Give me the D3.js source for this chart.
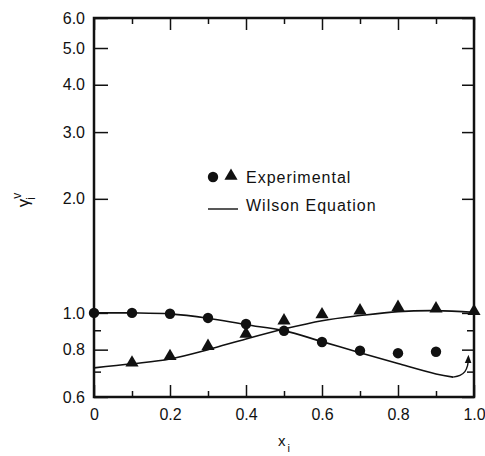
<!DOCTYPE html>
<html><head><meta charset="utf-8">
<script src="https://cdn.jsdelivr.net/npm/d3@7"></script>
<style>
body{margin:0;background:#fff}
text{font-family:"Liberation Sans",Arial,sans-serif;fill:#111}
</style></head>
<body><svg id="c" width="485" height="456"></svg>
<script>
// ---- data ----
const xExpCircle = [0, 0.1, 0.2, 0.3, 0.4, 0.5, 0.6, 0.7, 0.8, 0.9];
const gammaExpCircle = [1.0, 1.0, 0.995, 0.97, 0.935, 0.897, 0.838, 0.795, 0.783, 0.79];
const xExpTri = [0.1, 0.2, 0.3, 0.4, 0.5, 0.6, 0.7, 0.8, 0.9, 1.0];
const gammaExpTri = [0.734, 0.764, 0.812, 0.875, 0.948, 0.984, 1.008, 1.029, 1.02, 1.004];
const xWilson1 = [0, 0.1, 0.2, 0.3, 0.4, 0.5, 0.6, 0.7, 0.8, 0.9, 0.945];
const gammaWilson1 = [1.0, 1.0, 0.994, 0.968, 0.931, 0.898, 0.84, 0.785, 0.735, 0.69, 0.677];
const xHook = [0.945, 0.963, 0.976, 0.983, 0.985];
const gammaHook = [0.677, 0.684, 0.700, 0.726, 0.756];
const xWilson2 = [0, 0.1, 0.2, 0.3, 0.4, 0.5, 0.6, 0.7, 0.8, 0.9, 1.0];
const gammaWilson2 = [0.716, 0.734, 0.756, 0.80, 0.854, 0.907, 0.954, 0.984, 1.008, 1.014, 1.004];
const xTickValues = [0, 0.2, 0.4, 0.6, 0.8, 1.0];
const xTickLabels = ["0", "0.2", "0.4", "0.6", "0.8", "1.0"];
const xMinorTicks = [0.1, 0.3, 0.5, 0.7, 0.9];
const yTickValues = [0.6, 0.8, 1.0, 2.0, 3.0, 4.0, 5.0, 6.0];
const yTickLabels = ["0.6", "0.8", "1.0", "2.0", "3.0", "4.0", "5.0", "6.0"];
const yMinorTicks = [0.7, 0.9];
const legendLabels = ["Experimental", "Wilson Equation"];

(function () {
// ---- layout ----
const L = 94, R = 474, T = 18, B = 397;
const svg = d3.select("#c");
const x = d3.scaleLinear().domain([0, 1]).range([L, R]);
const y = d3.scaleLog().domain([0.6, 6]).range([B, T]);

svg.append("defs").append("marker")
  .attr("id", "arr").attr("viewBox", "0 0 10 10").attr("refX", 5).attr("refY", 5)
  .attr("markerWidth", 6).attr("markerHeight", 6).attr("orient", "auto")
  .append("path").attr("d", "M0,1 L10,5 L0,9 Z").attr("fill", "#111");

// frame
svg.append("rect").attr("x", L).attr("y", T).attr("width", R - L).attr("height", B - T)
  .attr("fill", "none").attr("stroke", "#111").attr("stroke-width", 2.5);

// axes with inward ticks
svg.append("g").attr("transform", `translate(0,${B})`)
  .call(d3.axisBottom(x).tickValues(xTickValues).tickSize(-12).tickPadding(12)
    .tickFormat((d, i) => xTickLabels[i]));
svg.append("g").attr("transform", `translate(0,${B})`)
  .call(d3.axisBottom(x).tickValues(xMinorTicks).tickSize(-6).tickFormat(""));
svg.append("g").attr("transform", `translate(0,${T})`)
  .call(d3.axisTop(x).tickValues(xTickValues).tickSize(-12).tickFormat(""));
svg.append("g").attr("transform", `translate(0,${T})`)
  .call(d3.axisTop(x).tickValues(xMinorTicks).tickSize(-6).tickFormat(""));
svg.append("g").attr("transform", `translate(${L},0)`)
  .call(d3.axisLeft(y).tickValues(yTickValues).tickSize(-14).tickPadding(9)
    .tickFormat((d, i) => yTickLabels[i]));
svg.append("g").attr("transform", `translate(${L},0)`)
  .call(d3.axisLeft(y).tickValues(yMinorTicks).tickSize(-7).tickFormat(""));
svg.append("g").attr("transform", `translate(${R},0)`)
  .call(d3.axisRight(y).tickValues(yTickValues).tickSize(-12).tickFormat(""));
svg.append("g").attr("transform", `translate(${R},0)`)
  .call(d3.axisRight(y).tickValues(yMinorTicks).tickSize(-7).tickFormat(""));
svg.selectAll(".domain").remove();
svg.selectAll(".tick line").attr("stroke", "#111").attr("stroke-width", 1.5);
svg.selectAll(".tick text").attr("font-size", 16).attr("font-family", "Liberation Sans, Arial, sans-serif").attr("fill", "#111");

// curves
const line = d3.line().x(d => x(d[0])).y(d => y(d[1])).curve(d3.curveCatmullRom);
svg.append("path").datum(d3.zip(xWilson1, gammaWilson1)).attr("d", line)
  .attr("fill", "none").attr("stroke", "#111").attr("stroke-width", 1.6);
svg.append("path").datum(d3.zip(xHook, gammaHook)).attr("d", line)
  .attr("fill", "none").attr("stroke", "#111").attr("stroke-width", 1.4).attr("marker-end", "url(#arr)");
svg.append("path").datum(d3.zip(xWilson2, gammaWilson2)).attr("d", line)
  .attr("fill", "none").attr("stroke", "#111").attr("stroke-width", 1.6);

// points
const tri = d3.symbol().type(d3.symbolTriangle).size(75);
svg.append("g").selectAll("circle").data(d3.zip(xExpCircle, gammaExpCircle)).join("circle")
  .attr("cx", d => x(d[0])).attr("cy", d => y(d[1])).attr("r", 5.2).attr("fill", "#111");
svg.append("g").selectAll("path").data(d3.zip(xExpTri, gammaExpTri)).join("path")
  .attr("d", tri).attr("transform", d => `translate(${x(d[0])},${y(d[1]) - 1})`).attr("fill", "#111");

// legend
const lg = svg.append("g");
lg.append("circle").attr("cx", 213).attr("cy", 177).attr("r", 5.2).attr("fill", "#111");
lg.append("path").attr("d", tri).attr("transform", "translate(231,176)").attr("fill", "#111");
lg.append("text").attr("x", 246).attr("y", 183).attr("font-size", 16).attr("letter-spacing", 1).text(legendLabels[0]);
lg.append("line").attr("x1", 208).attr("x2", 238).attr("y1", 209).attr("y2", 209).attr("stroke", "#111").attr("stroke-width", 1.4);
lg.append("text").attr("x", 246).attr("y", 211).attr("font-size", 16).attr("letter-spacing", 1).text(legendLabels[1]);

// axis titles
const yt = svg.append("text").attr("transform", "translate(29,200) rotate(-90)")
  .attr("text-anchor", "middle").attr("font-size", 17);
yt.append("tspan").text("γ");
yt.append("tspan").attr("font-size", 12).attr("dy", -8).text("v");
yt.append("tspan").attr("font-size", 12).attr("dx", -7).attr("dy", 14).text("i");

const xt = svg.append("text").attr("x", 284).attr("y", 446).attr("text-anchor", "middle").attr("font-size", 15);
xt.append("tspan").text("x");
xt.append("tspan").attr("font-size", 11).attr("dy", 6).attr("dx", 2).text("i");
})();
</script></body></html>
